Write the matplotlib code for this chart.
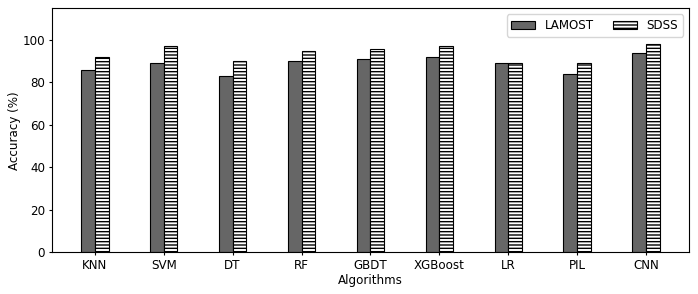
import numpy as np
import matplotlib
matplotlib.use("Agg")
import matplotlib.pyplot as plt

algorithms = ["KNN", "SVM", "DT", "RF", "GBDT", "XGBoost", "LR", "PIL", "CNN"]
lamost = [86, 89, 83, 90, 91, 92, 89, 84, 94]
sdss = [92, 97, 90, 95, 96, 97, 89, 89, 98]

x = np.arange(len(algorithms))
width = 0.2
fs = 8.6

plt.rcParams['hatch.linewidth'] = 1.0
fig = plt.figure(figsize=(6.98, 2.94), dpi=100)
ax = fig.add_axes([0.0745, 0.142, 0.9125, 0.830])

ax.bar(x - width / 2, lamost, width, color="#666666", edgecolor="black",
       linewidth=0.8, label="LAMOST")
ax.bar(x + width / 2, sdss, width, color="white", edgecolor="black",
       linewidth=0.8, hatch="-----", label="SDSS")

ax.set_ylim(0, 115)
ax.set_xticks(x)
ax.set_xticklabels(algorithms, fontsize=fs)
ax.tick_params(axis="both", labelsize=fs, length=2.5, pad=2.5)
ax.set_xlabel("Algorithms", fontsize=fs, labelpad=1)
ax.set_ylabel("Accuracy (%)", fontsize=fs, labelpad=1)
ax.legend(loc="upper right", ncol=2, fontsize=fs, columnspacing=1.6)

fig.savefig("out.png", dpi=100)
